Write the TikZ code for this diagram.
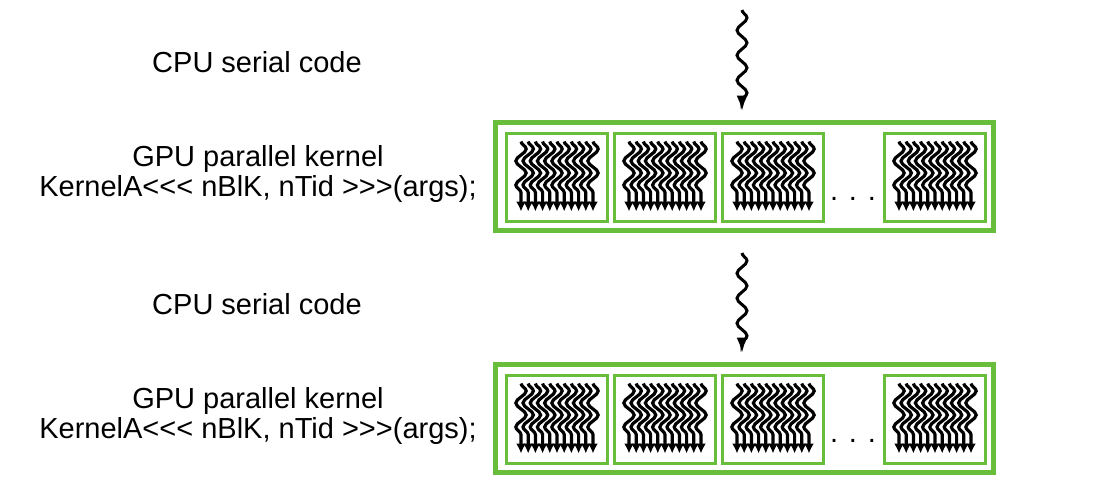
\documentclass[tikz,border=0pt]{standalone}
\usepackage{fontspec}
\setmainfont{Liberation Sans}
\usetikzlibrary{decorations.pathmorphing,arrows.meta}
\definecolor{gridgreen}{RGB}{104,189,58}
\tikzset{
  label/.style={font=\fontsize{14.5}{13.5}\selectfont, align=center},
  gridbox/.style={draw=gridgreen, line width=2.5pt, minimum width=249pt, minimum height=54pt, inner sep=0pt},
  blockbox/.style={draw=gridgreen, line width=1.5pt, minimum width=50.5pt, minimum height=44pt, inner sep=0pt},
  warp/.style={-{Latex[length=8pt,width=5.5pt]}, line width=1.5pt, decorate,
    decoration={snake, segment length=12.5pt, amplitude=2.5pt, post length=6pt}},
  thread/.style={-{Latex[length=5pt,width=5pt]}, line width=1.6pt, decorate,
    decoration={snake, segment length=12pt, amplitude=2.6pt, post length=4pt}},
}
\begin{document}
\begin{tikzpicture}[x=0.5pt,y=-0.5pt]
    \useasboundingbox (0,0) rectangle (1116,488);

    % serial code and kernel launch, two times
    \foreach \r/\dy/\ay in {1/0/10, 2/242/253} {
        \node[label] (cpu\r) at (257, 62+\dy) {CPU serial code};
        \node[label] (gpu\r) at (258, 174+\dy) {GPU parallel kernel\\KernelA{<}{<}{<} nBlK, nTid {>}{>}{>}(args);};

        \node[gridbox] (grid\r) at (744, 176+\dy) {};
        \node[blockbox] (blk\r a) at (557, 177+\dy) {};
        \node[blockbox] (blk\r b) at (665, 177+\dy) {};
        \node[blockbox] (blk\r c) at (773, 177+\dy) {};
        \node[blockbox] (blk\r d) at (935, 177+\dy) {};
        \node[label] (dots\r) at (853, 199+\dy) {. . .};

        % threads of each block
        \foreach \b in {a,b,c,d} {
            \foreach \k in {-5,...,5} {
                \draw[thread] ([xshift=\k*3.6pt, yshift=-5pt]blk\r\b.north) -- ([xshift=\k*3.6pt, yshift=5.5pt]blk\r\b.south);
            }
        }

        \coordinate (src\r) at (742, \ay);
        \draw[warp, shorten >=4pt] (src\r) -- (src\r |- grid\r.north);
    }
\end{tikzpicture}
\end{document}
